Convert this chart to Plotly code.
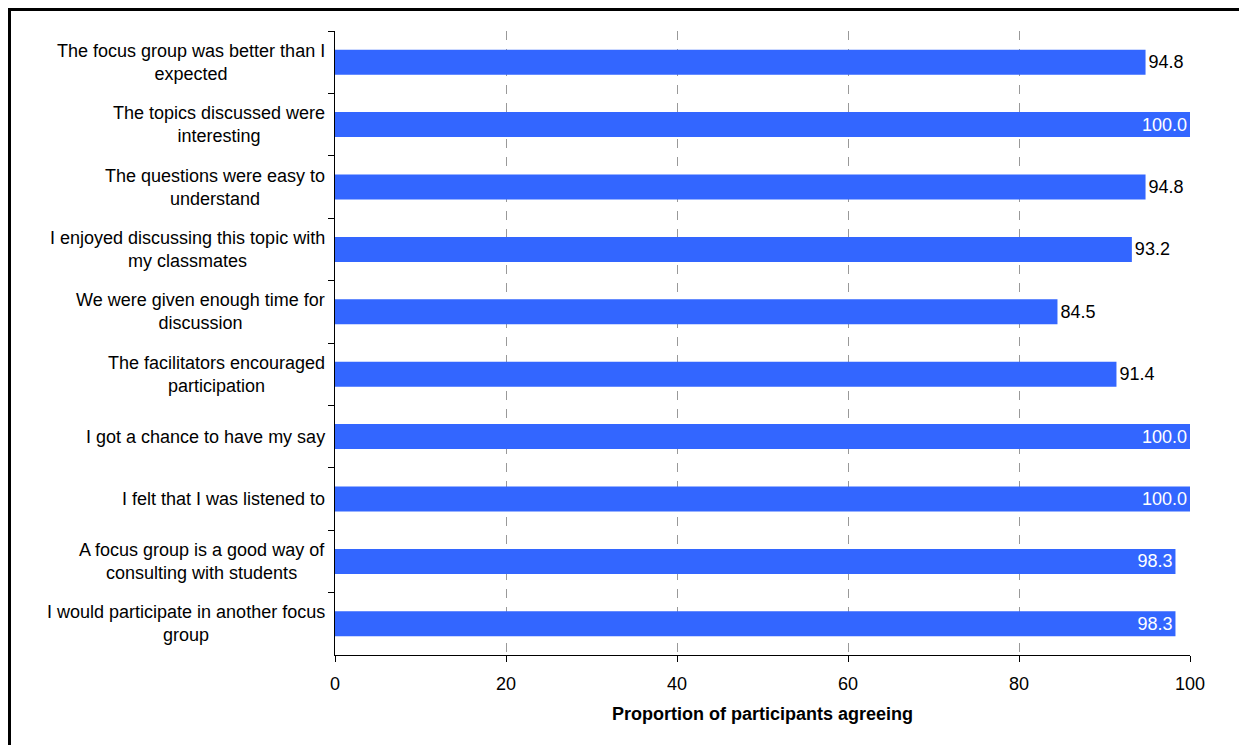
import plotly.graph_objects as go

categories = [
    "The focus group was better than I<br>expected",
    "The topics discussed were<br>interesting",
    "The questions were easy to<br>understand",
    "I enjoyed discussing this topic with<br>my classmates",
    "We were given enough time for<br>discussion",
    "The facilitators encouraged<br>participation",
    "I got a chance to have my say",
    "I felt that I was listened to",
    "A focus group is a good way of<br>consulting with students",
    "I would participate in another focus<br>group",
]
values = [94.8, 100.0, 94.8, 93.2, 84.5, 91.4, 100.0, 100.0, 98.3, 98.3]
x_ticks = [0, 20, 40, 60, 80, 100]

positions = ["inside" if v >= 98 else "outside" for v in values]
text_colors = ["white" if v >= 98 else "black" for v in values]

FONT = "Liberation Sans, Arial, sans-serif"
FS = 18

L, R, T, B = 327, 65, 23, 98
W, H = 1247, 745
PW, PH = W - L - R, H - T - B

fig = go.Figure()
fig.add_trace(go.Bar(
    y=categories, x=values, orientation="h",
    marker=dict(color="#3366FF", line=dict(width=0)),
    text=[f"{v:.1f}" for v in values],
    textposition=positions,
    insidetextanchor="end",
    textfont=dict(family=FONT, size=FS, color=text_colors),
    cliponaxis=False,
    width=0.4,
))

for c in categories:
    fig.add_annotation(
        x=-0.009, xref="x domain", y=c, yref="y",
        text=c, showarrow=False, xanchor="right", yanchor="middle",
        align="center", font=dict(family=FONT, size=FS, color="#000000"),
    )

fig.update_layout(
    width=W, height=H,
    margin=dict(l=L, r=R, t=T, b=B),
    paper_bgcolor="white", plot_bgcolor="white",
    showlegend=False,
    font=dict(family=FONT, size=FS, color="#000000"),
    uniformtext=dict(minsize=FS, mode="show"),
)
fig.update_xaxes(
    range=[0, 100], tickvals=x_ticks, ticktext=[str(t) for t in x_ticks],
    showgrid=True, gridcolor="#999999", griddash="dash", gridwidth=1,
    showline=True, linecolor="#000000", linewidth=1,
    ticks="outside", ticklen=6, tickcolor="#000000",
    ticklabelstandoff=6,
    zeroline=False,
    title=dict(text="<b>Proportion of participants agreeing</b>",
               font=dict(family=FONT, size=FS), standoff=14),
    tickfont=dict(family=FONT, size=FS),
)
fig.update_yaxes(
    categoryorder="array", categoryarray=categories, autorange="reversed",
    showticklabels=False, showgrid=False, zeroline=False,
    showline=True, linecolor="#000000", linewidth=1,
    ticks="outside", ticklen=6, tickcolor="#000000", tickson="boundaries",
)

fig.add_shape(type="rect", xref="paper", yref="paper",
              x0=(1.5 - L) / PW, x1=1.3, y0=-0.3, y1=1 + (T - 1.5) / PH,
              line=dict(color="black", width=3), fillcolor="rgba(0,0,0,0)",
              layer="above")

fig.write_html("out.html")
